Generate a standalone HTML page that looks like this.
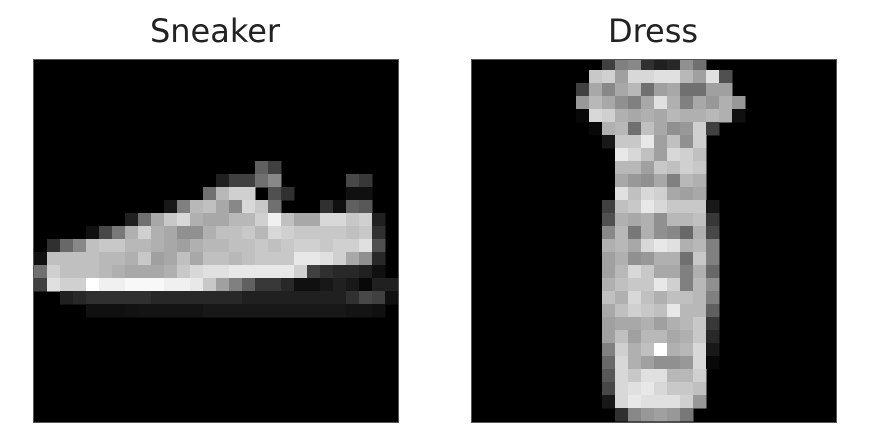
<!DOCTYPE html>
<html><head><meta charset="utf-8"><style>
html,body{margin:0;padding:0;background:#fff;width:884px;height:434px;overflow:hidden}
svg{display:block}
</style></head><body>
<svg id="fig" width="884" height="434" xmlns="http://www.w3.org/2000/svg">
<defs>
<clipPath id="c1"><rect x="34" y="60" width="364" height="362"/></clipPath>
<clipPath id="c2"><rect x="472" y="60" width="364" height="362"/></clipPath>
</defs>
<text x="215" y="42" text-anchor="middle" font-family="DejaVu Sans, Liberation Sans, sans-serif" font-size="32" fill="#222">Sneaker</text>
<text x="653" y="42" text-anchor="middle" font-family="DejaVu Sans, Liberation Sans, sans-serif" font-size="32" fill="#222">Dress</text>
<g id="img1" clip-path="url(#c1)"></g>
<g id="img2" clip-path="url(#c2)"></g>
<rect x="33.5" y="59.5" width="365" height="363" fill="none" stroke="#555" stroke-width="1"/>
<rect x="471.5" y="59.5" width="365" height="363" fill="none" stroke="#555" stroke-width="1"/>
</svg>
<script>
// Pixel data: per row [startColumn, "hex values"]
const sneakerRows = [
[0,""],[0,""],[0,""],[0,""],[0,""],[0,""],[0,""],[0,""],
[17,"60 40"],
[14,"20 40 40 70 88 00 00 00 00 00 48 38"],
[13,"70 B8 D0 D0 00 50 30 00 00 00 00 10 10"],
[10,"18 80 B8 C0 A8 88 D8 C8 70 00 00 00 30 10 60 58"],
[7,"20 70 A8 C8 D8 B0 A8 A8 B8 B8 D0 F0 C0 A8 A8 D8 D8 C8 D0 20"],
[4,"10 48 78 B0 D0 B0 A8 90 90 B0 C0 C0 C8 B8 D8 D0 C8 C8 C8 C8 C0 C8 30"],
[1,"30 68 88 C0 C8 C8 B8 B8 B0 A8 A0 B0 B8 B8 C0 C0 C8 C0 C8 D0 D0 C8 D0 D0 E0 50"],
[0,"10 C0 C0 C0 C0 B8 B8 B0 C8 A0 A8 C0 A8 C0 C0 B8 C0 C8 C8 C8 E8 E8 E0 D0 A8 90 28"],
[0,"70 D0 C0 C0 C0 B8 B0 A8 A8 A8 B0 C8 D8 E0 E0 E8 E8 E8 E8 E8 D0 40 30 28 28 20 10"],
[0,"40 E0 D0 D0 FF F0 F0 F8 F8 F8 F0 F0 E8 C8 A0 80 60 38 38 28 10 10 18 20 18 08 20 20"],
[2,"20 28 30 30 30 30 30 28 28 28 28 28 28 28 20 20 20 20 20 20 20 20 30 48 40 10"],
[4,"10 10 10 12 14 14 14 14 14 18 18 18 18 18 18 18 18 18 18 18 14 14 10"],
[0,""],[0,""],[0,""],[0,""],[0,""],[0,""],[0,""],[0,""]
];
const dressRows = [
[10,"40 80 88 30 20 28 90 70"],
[9,"C8 D0 A0 D8 D8 E0 E0 B8 A0 E0 50"],
[8,"40 A8 88 A8 B8 70 A0 A8 70 70 A0 A0"],
[8,"98 B8 A8 90 80 A8 E0 B0 80 A8 98 B0 98"],
[8,"08 D8 D0 B0 A8 B0 A8 B8 B0 B0 B8 B0 10"],
[9,"08 B0 B8 70 C0 A8 90 98 D0 40"],
[10,"18 C8 C8 E8 A0 C0 90 D0"],
[11,"E8 D8 C0 A0 D8 D0 C0"],
[11,"B8 B8 A0 C8 C0 D0 C8"],
[11,"A8 98 90 A8 80 B8 B0"],
[11,"E0 C0 D8 D0 A8 A0 A8"],
[10,"40 C0 C8 E8 D8 C8 C8 C8 18"],
[10,"50 B0 A8 B0 90 B8 B8 C0 38"],
[10,"88 B8 78 B0 90 88 68 B0 48"],
[10,"B0 B8 A8 D8 E8 E0 B0 B8 80"],
[10,"A0 B0 90 98 B0 B0 70 C8 80"],
[10,"A0 B8 D8 C8 A8 A8 80 B0 68"],
[10,"B0 C0 C8 C8 E8 D0 80 B8 90"],
[10,"C0 B0 D8 C0 B0 C0 C0 B8 80"],
[10,"A8 C0 D0 C8 C0 E8 B8 B8 60"],
[10,"A0 A8 A8 B0 A0 B0 B8 C8 38"],
[10,"A0 C0 A0 B8 B8 A8 B0 C8 28"],
[10,"80 D0 B0 C0 FF B0 B8 D8 18"],
[10,"68 D8 B0 A0 90 90 98 D8 08"],
[10,"58 D8 C8 E0 E0 B8 B8 D0 00"],
[10,"48 D8 E0 E8 D8 C8 C8 C0 00"],
[10,"18 D8 E8 E0 E0 E0 D0 98 00"],
[10,"00 30 88 98 A0 98 78"]
];
const NS="http://www.w3.org/2000/svg";
function drawImage(gid, rows, x0, y0, name){
  const g=document.getElementById(gid);
  const cell=13;
  const bg=document.createElementNS(NS,'rect');
  
  
  bg.setAttribute('x',x0);bg.setAttribute('y',y0);
  bg.setAttribute('width',cell*28);bg.setAttribute('height',cell*28+4);
  bg.setAttribute('fill','#000');
  g.appendChild(bg);
  rows.forEach((row,r)=>{
    const start=row[0];
    const vals=row[1].trim()?row[1].trim().split(/\s+/):[];
    vals.forEach((h,i)=>{
      const v=parseInt(h,16);
      if(v===0)return;
      const c=start+i;
      const rc=document.createElementNS(NS,'rect');
      
      
      rc.setAttribute('x',x0+c*cell);rc.setAttribute('y',y0+r*cell);
      rc.setAttribute('width',cell+0.5);rc.setAttribute('height',cell+0.5);
      rc.setAttribute('fill','rgb('+v+','+v+','+v+')');
      g.appendChild(rc);
    });
  });
}
drawImage('img1', sneakerRows, 34, 57, 'sneaker');
drawImage('img2', dressRows, 472, 57, 'dress');
</script>
</body></html>
